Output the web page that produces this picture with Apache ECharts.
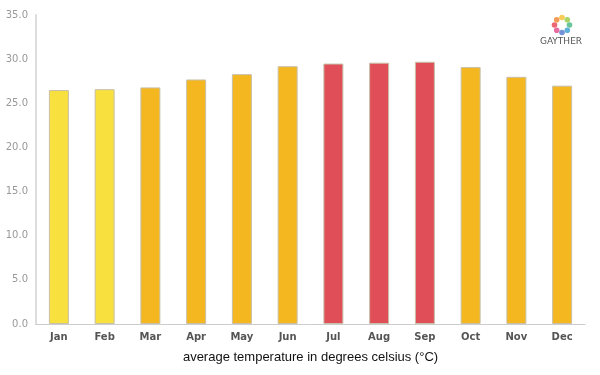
<!DOCTYPE html>
<html><head><meta charset="utf-8">
<script src="https://cdn.jsdelivr.net/npm/echarts@6/dist/echarts.min.js"></script>
<style>html,body{margin:0;padding:0;background:#fff}#c{width:600px;height:375px}</style>
</head><body><div id="c"></div>
<script>
var months = ['Jan','Feb','Mar','Apr','May','Jun','Jul','Aug','Sep','Oct','Nov','Dec'];
var temps = [26.5, 26.6, 26.8, 27.7, 28.3, 29.2, 29.5, 29.6, 29.7, 29.1, 28.0, 27.0];
var barColors = ['#F8E03F','#F8E03F','#F4B71F','#F4B71F','#F4B71F','#F4B71F','#E04F58','#E04F58','#E04F58','#F4B71F','#F4B71F','#F4B71F'];
var yTicks = {min: 0, max: 35, interval: 5};
var axisTitle = 'average temperature in degrees celsius (°C)';
var logoText = 'GAYTHER';
var logoColors = ['#F6C33C','#9ACD4E','#4DBB8A','#3FA3D5','#5B7FD0','#E2538F','#E94B5A','#F28A3B'];

var chart = echarts.init(document.getElementById('c'), null, {renderer:'canvas'});
var logoEls = logoColors.map(function(c, i){
  var a = -Math.PI/2 + i * 2*Math.PI/logoColors.length;
  return {type:'circle', shape:{cx:562 + 7.5*Math.cos(a), cy:25 + 7.5*Math.sin(a), r:2.8}, style:{fill:c, opacity:0.85}};
});
logoEls.push({type:'text', x:561, y:37, style:{text:logoText, fill:'#555', align:'center', font:'9px "DejaVu Sans"'}});
chart.setOption({
  animation:false,
  grid:{left:36, right:15, top:15, bottom:51},
  xAxis:{type:'category', data:months,
    axisLine:{lineStyle:{color:'#cccccc', width:1}}, axisTick:{show:false},
    axisLabel:{color:'#555', fontWeight:'bold', fontSize:10, fontFamily:'"DejaVu Sans"', margin:8},
    name:axisTitle, nameLocation:'middle', nameGap:27,
    nameTextStyle:{color:'#111', fontSize:13, fontFamily:'"Liberation Sans", Arial'}},
  yAxis:{type:'value', min:yTicks.min, max:yTicks.max, interval:yTicks.interval,
    axisLine:{show:true, lineStyle:{color:'#dddddd', width:2}}, axisTick:{show:false},
    splitLine:{show:false},
    axisLabel:{color:'#999', fontSize:10, fontFamily:'"DejaVu Sans"', margin:8, formatter:function(v){return v.toFixed(1);}}},
  series:[{type:'bar', barWidth:20,
    data:temps.map(function(v,i){return {value:v, itemStyle:{color:barColors[i]}};}),
    itemStyle:{borderColor:'#c8c0a8', borderWidth:1}}],
  graphic:logoEls
});
</script></body></html>
